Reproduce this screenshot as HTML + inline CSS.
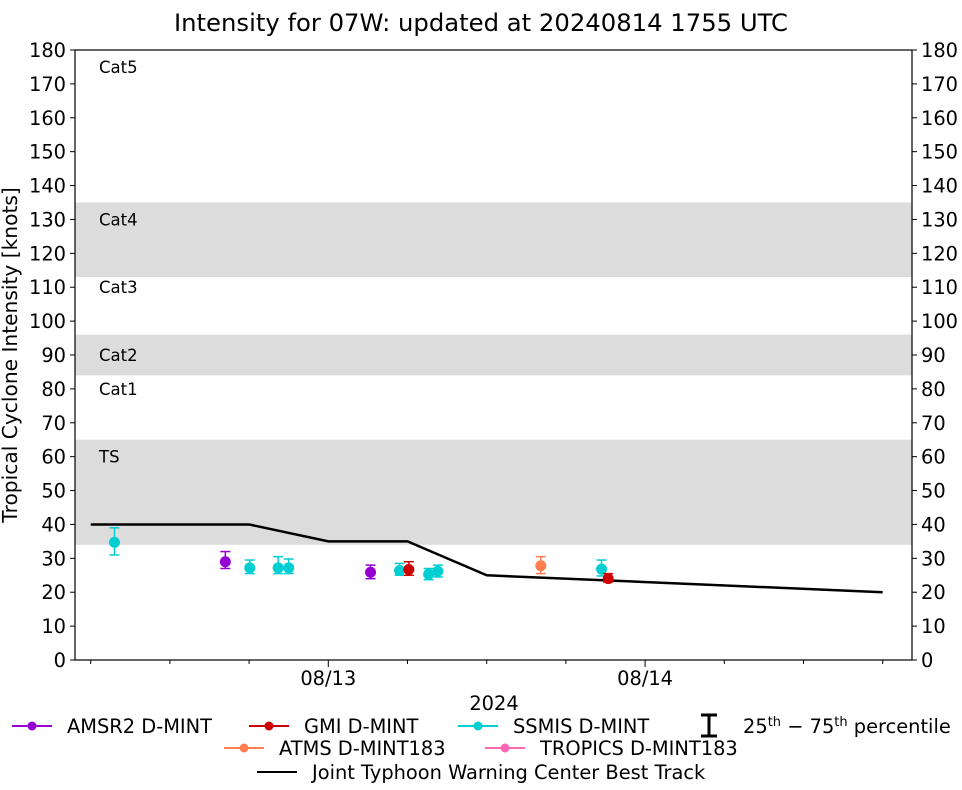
<!DOCTYPE html>
<html><head><meta charset="utf-8"><style>
body{margin:0;background:#fff;font-family:"Liberation Sans","DejaVu Sans",sans-serif}
svg text{font-family:"DejaVu Sans","Liberation Sans",sans-serif}
</style></head><body>
<svg id="c" width="962" height="785" xmlns="http://www.w3.org/2000/svg"></svg>
<script>
const yTicks=[0,10,20,30,40,50,60,70,80,90,100,110,120,130,140,150,160,170,180];
const bands=[[34,65],[84,96],[113,135]];
const catLabels=["Cat5","Cat4","Cat3","Cat2","Cat1","TS"];
const catValues=[175,130,110,90,80,60];
const btHours=[6,18,24,30,36,66];
const btValues=[40,40,35,35,25,20];
const amsr2=[[16.2,29.0,27,32],[27.2,25.9,24,28]];
const gmi=[[30.1,26.7,25,29],[45.2,24,23,25.5]];
const ssmis=[[7.8,34.7,31,39],[18.05,27.2,25.5,29.5],[20.2,27.2,25.5,30.5],[21,27.2,25.5,29.8],[29.4,26.4,25,28.5],[31.6,25.3,23.7,27],[32.3,26.2,24.5,28],[44.7,26.8,24.8,29.5]];
const atms=[[40.1,27.8,25.5,30.5]];
const xTickHours=[6,12,18,24,30,36,42,48,54,60,66];
const xLabels=[[24,"08/13"],[48,"08/14"]];

const L=75,R=912,T=50,B=660;
const FS=19.4;
const y=v=>B-(v/180)*(B-T);
const x=h=>328.3+(h-24)*13.2;
const svg=document.getElementById('c');
const NS="http://www.w3.org/2000/svg";
function mk(tag,at,parent){const e=document.createElementNS(NS,tag);for(const k in at)e.setAttribute(k,at[k]);(parent||svg).appendChild(e);return e;}
function txt(s,at){const e=mk('text',at);e.textContent=s;return e;}

let t=txt("Intensity for 07W: updated at 20240814 1755 UTC",{x:481,y:31,'text-anchor':'middle','font-size':24.3});



bands.forEach((b,i)=>{const r=mk('rect',{x:L,y:y(b[1]),width:R-L,height:y(b[0])-y(b[1]),fill:'#dcdcdc'});

});
catLabels.forEach((s,i)=>{const e=txt(s,{x:99,y:y(catValues[i])+6,'font-size':16.5});

});

yTicks.forEach(v=>{
mk('line',{x1:L-5,x2:L,y1:y(v),y2:y(v),stroke:'#000'});
mk('line',{x1:R,x2:R+5,y1:y(v),y2:y(v),stroke:'#000'});
const a=txt(v,{x:L-9,y:y(v)+7,'text-anchor':'end','font-size':FS});


const b=txt(v,{x:R+9,y:y(v)+7,'font-size':FS});


});
xTickHours.forEach(h=>{const big=(h%24==0);mk('line',{x1:x(h),x2:x(h),y1:B,y2:B+(big?7:4),stroke:'#000'});});
xLabels.forEach(l=>{const e=txt(l[1],{x:x(l[0]),y:685,'text-anchor':'middle','font-size':FS});

});
t=txt("2024",{x:494,y:710,'text-anchor':'middle','font-size':FS});


t=txt("Tropical Cyclone Intensity [knots]",{x:0,y:0,'text-anchor':'middle','font-size':20.2,transform:'translate(17,355) rotate(-90)'});



let pts=btHours.map((h,i)=>x(h)+','+y(btValues[i])).join(' ');
t=mk('polyline',{points:pts,fill:'none',stroke:'#000','stroke-width':2.5});



function series(arr,col,name){arr.forEach(d=>{
const g=mk('g',{});


const cx=x(d[0]);
mk('line',{x1:cx,x2:cx,y1:y(d[2]),y2:y(d[3]),stroke:col,'stroke-width':1.5},g);
mk('line',{x1:cx-5,x2:cx+5,y1:y(d[2]),y2:y(d[2]),stroke:col,'stroke-width':1.5},g);
mk('line',{x1:cx-5,x2:cx+5,y1:y(d[3]),y2:y(d[3]),stroke:col,'stroke-width':1.5},g);
mk('circle',{cx:cx,cy:y(d[1]),r:5.5,fill:col},g);});}
series(ssmis,'#00ced1','ssmis');
series(amsr2,'#9400d3','amsr2');
series(atms,'#ff7f50','atms');
series(gmi,'#cc0000','gmi');

mk('rect',{x:L,y:T,width:R-L,height:B-T,fill:'none',stroke:'#000','stroke-width':1.2});

function leg(x1,yy,col,label,marker,name){
const g=mk('g',{});


mk('line',{x1:x1,x2:x1+40,y1:yy,y2:yy,stroke:col,'stroke-width':2},g);
if(marker)mk('circle',{cx:x1+20,cy:yy,r:4.5,fill:col},g);
const e=mk('text',{x:x1+55,y:yy+7,'font-size':FS},g);e.textContent=label;}
leg(12,726,'#9400d3','AMSR2 D-MINT',1,'legend-amsr2');
leg(249,726,'#cc0000','GMI D-MINT',1,'legend-gmi');
leg(458,726,'#00ced1','SSMIS D-MINT',1,'legend-ssmis');
leg(224,748,'#ff7f50','ATMS D-MINT183',1,'legend-atms');
leg(485,748,'#ff69b4','TROPICS D-MINT183',1,'legend-tropics');
leg(257,772,'#000','Joint Typhoon Warning Center Best Track',0,'legend-best-track');
const g=mk('g',{});


mk('path',{d:'M701 715 H717 M709 715 V736 M701 736 H717',stroke:'#000','stroke-width':3,fill:'none'},g);
const pt=mk('text',{x:743,y:733,'font-size':FS},g);
pt.innerHTML='25<tspan dy="-7" font-size="13">th</tspan><tspan dy="7"> − 75</tspan><tspan dy="-7" font-size="13">th</tspan><tspan dy="7"> percentile</tspan>';
</script>
</body></html>
